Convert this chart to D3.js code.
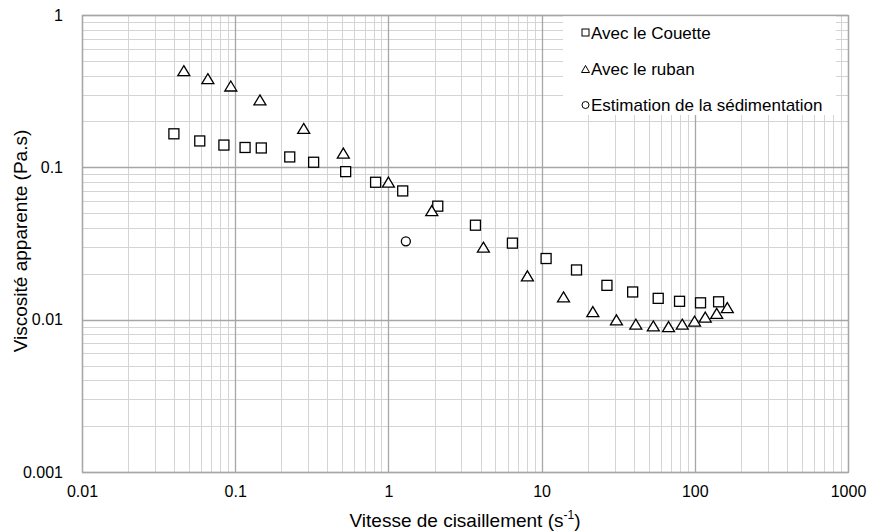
<!DOCTYPE html>
<html>
<head>
<meta charset="utf-8">
<script src="https://cdn.jsdelivr.net/npm/d3@7"></script>
<style>
  body { margin: 0; background: #ffffff; }
  text { font-family: "Liberation Sans", Arial, sans-serif; fill: #000000; }
</style>
</head>
<body>
<script>
// data (shear rate in s-1, viscosity in Pa.s)
let couetteX = [0.0398, 0.0587, 0.0844, 0.116, 0.148, 0.227, 0.325, 0.526, 0.825, 1.24, 2.10, 3.70, 6.45, 10.7, 16.9, 26.7, 39.3, 57.7, 79.5, 109, 143];
let couetteY = [0.166, 0.149, 0.140, 0.135, 0.134, 0.117, 0.108, 0.0937, 0.0798, 0.0700, 0.0556, 0.0417, 0.0318, 0.0252, 0.0212, 0.0168, 0.0152, 0.0138, 0.0132, 0.0129, 0.0131];

let rubanX = [0.0462, 0.0663, 0.0936, 0.145, 0.280, 0.508, 1.00, 1.92, 4.17, 8.08, 13.9, 21.6, 30.8, 41.2, 53.6, 67.4, 82.8, 99.6, 117, 139, 163];
let rubanY = [0.431, 0.382, 0.342, 0.277, 0.180, 0.124, 0.080, 0.052, 0.0299, 0.0194, 0.0141, 0.0113, 0.00997, 0.00934, 0.0091, 0.00901, 0.00934, 0.00978, 0.0104, 0.0110, 0.0120];

let sedimX = [1.30];
let sedimY = [0.0327];

let xTicks = [0.01, 0.1, 1, 10, 100, 1000];
let yTicks = [0.001, 0.01, 0.1, 1];
let xTickLabels = ["0.01", "0.1", "1", "10", "100", "1000"];
let yTickLabels = ["0.001", "0.01", "0.1", "1"];

let legendLabels = ["Avec le Couette", "Avec le ruban", "Estimation de la sédimentation"];

let width = 870;
let height = 531;
let plotLeft = 82, plotRight = 848, plotTop = 15, plotBottom = 472;

let viz = d3.select("body")
              .append("svg")
                .attr("width", width)
                .attr("height", height)
;

let xScale = d3.scaleLog().domain([0.01, 1000]).range([plotLeft, plotRight]);
let yScale = d3.scaleLog().domain([0.001, 1]).range([plotBottom, plotTop]);

// minor values 2..9 in each decade
function minors(lo, hi){
  let out = [];
  for(let d = lo; d < hi * 0.999; d *= 10){
    for(let k = 2; k < 10; k++){
      out.push(d*k);
    }
  }
  return out;
}

// grid lines, minor first then major
let grid = viz.append("g").attr("class", "grid");

grid.selectAll(".vminor").data(minors(0.01, 1000))
      .enter()
        .append("line")
        .attr("class", "vminor")
        .attr("x1", d => Math.round(xScale(d)) + 0.5)
        .attr("x2", d => Math.round(xScale(d)) + 0.5)
        .attr("y1", plotTop)
        .attr("y2", plotBottom)
        .attr("stroke", "#d4d4d4")
        .attr("stroke-width", 1)
;

grid.selectAll(".hminor").data(minors(0.001, 1))
      .enter()
        .append("line")
        .attr("class", "hminor")
        .attr("y1", d => Math.round(yScale(d)) + 0.5)
        .attr("y2", d => Math.round(yScale(d)) + 0.5)
        .attr("x1", plotLeft)
        .attr("x2", plotRight)
        .attr("stroke", "#d4d4d4")
        .attr("stroke-width", 1)
;

grid.selectAll(".vmajor").data(xTicks)
      .enter()
        .append("line")
        .attr("class", "vmajor")
        .attr("x1", d => Math.round(xScale(d)) + 0.5)
        .attr("x2", d => Math.round(xScale(d)) + 0.5)
        .attr("y1", plotTop)
        .attr("y2", plotBottom)
        .attr("stroke", "#a6a6a6")
        .attr("stroke-width", 1.3)
;

grid.selectAll(".hmajor").data(yTicks)
      .enter()
        .append("line")
        .attr("class", "hmajor")
        .attr("y1", d => Math.round(yScale(d)) + 0.5)
        .attr("y2", d => Math.round(yScale(d)) + 0.5)
        .attr("x1", plotLeft)
        .attr("x2", plotRight)
        .attr("stroke", "#a6a6a6")
        .attr("stroke-width", 1.3)
;

// legend box sits on top of the grid
let legend = viz.append("g").attr("class", "legend");
legend.append("rect")
        .attr("x", 563)
        .attr("y", 16)
        .attr("width", 273)
        .attr("height", 99)
        .attr("fill", "#ffffff")
;

// axes, done with d3 axes and tick labels from the arrays
let xAxis = d3.axisBottom(xScale)
                .tickValues(xTicks)
                .tickFormat((d, i) => xTickLabels[i])
                .tickSize(0)
                .tickPadding(14);

let yAxis = d3.axisLeft(yScale)
                .tickValues(yTicks)
                .tickFormat((d, i) => yTickLabels[i])
                .tickSize(0)
                .tickPadding(19);

let gx = viz.append("g")
              .attr("transform", "translate(0," + plotBottom + ")")
              .call(xAxis);
let gy = viz.append("g")
              .attr("transform", "translate(" + plotLeft + ",0)")
              .call(yAxis);

gx.select(".domain").remove();
gy.select(".domain").remove();
gx.selectAll("text").attr("font-size", 16).attr("font-family", "Liberation Sans, Arial, sans-serif").attr("fill", "#000");
gy.selectAll("text").attr("font-size", 16).attr("font-family", "Liberation Sans, Arial, sans-serif").attr("fill", "#000");

// plot border
viz.append("rect")
      .attr("x", plotLeft + 0.5)
      .attr("y", plotTop + 0.5)
      .attr("width", plotRight - plotLeft)
      .attr("height", plotBottom - plotTop)
      .attr("fill", "none")
      .attr("stroke", "#a6a6a6")
      .attr("stroke-width", 1.3)
;

// axis titles
let xTitle = viz.append("text")
      .attr("x", 465)
      .attr("y", 527)
      .attr("text-anchor", "middle")
      .attr("font-size", 19);
xTitle.append("tspan").text("Vitesse de cisaillement (s");
xTitle.append("tspan").text("-1").attr("font-size", 12).attr("dy", -8);
xTitle.append("tspan").text(")").attr("dy", 8);

viz.append("text")
      .attr("transform", "rotate(-90)")
      .attr("x", -241)
      .attr("y", 27)
      .attr("text-anchor", "middle")
      .attr("font-size", 19)
      .text("Viscosité apparente (Pa.s)")
;

// markers
function pairs(xs, ys){
  return xs.map((x, i) => ({x: x, y: ys[i]}));
}

let marks = viz.append("g").attr("class", "marks");

marks.selectAll(".couette").data(pairs(couetteX, couetteY))
      .enter()
        .append("rect")
        .attr("class", "couette")
        .attr("x", d => xScale(d.x) - 5)
        .attr("y", d => yScale(d.y) - 5)
        .attr("width", 10)
        .attr("height", 10)
        .attr("fill", "#ffffff")
        .attr("stroke", "#000000")
        .attr("stroke-width", 1.3)
;

function triPath(cx, cy, w, h){
  return "M" + cx + "," + (cy - h/2) +
         "L" + (cx + w/2) + "," + (cy + h/2) +
         "L" + (cx - w/2) + "," + (cy + h/2) + "Z";
}

marks.selectAll(".ruban").data(pairs(rubanX, rubanY))
      .enter()
        .append("path")
        .attr("class", "ruban")
        .attr("d", d => triPath(xScale(d.x), yScale(d.y), 12, 10))
        .attr("fill", "#ffffff")
        .attr("stroke", "#000000")
        .attr("stroke-width", 1.3)
;

marks.selectAll(".sedim").data(pairs(sedimX, sedimY))
      .enter()
        .append("circle")
        .attr("class", "sedim")
        .attr("cx", d => xScale(d.x))
        .attr("cy", d => yScale(d.y))
        .attr("r", 4.5)
        .attr("fill", "#ffffff")
        .attr("stroke", "#000000")
        .attr("stroke-width", 1.3)
;

// legend entries
let legendY = [32.5, 69, 105];
legend.append("rect")
        .attr("x", 582).attr("y", legendY[0] - 3.5)
        .attr("width", 7).attr("height", 7)
        .attr("fill", "#fff").attr("stroke", "#000").attr("stroke-width", 1);
legend.append("path")
        .attr("d", triPath(585.5, legendY[1], 8, 7))
        .attr("fill", "#fff").attr("stroke", "#000").attr("stroke-width", 1);
legend.append("circle")
        .attr("cx", 585.5).attr("cy", legendY[2]).attr("r", 3.5)
        .attr("fill", "#fff").attr("stroke", "#000").attr("stroke-width", 1);

legend.selectAll(".ltext").data(legendLabels)
        .enter()
          .append("text")
          .attr("class", "ltext")
          .attr("x", 591)
          .attr("y", (d, i) => legendY[i] + 6)
          .attr("font-size", 17)
          .text(d => d)
;
</script>
</body>
</html>
